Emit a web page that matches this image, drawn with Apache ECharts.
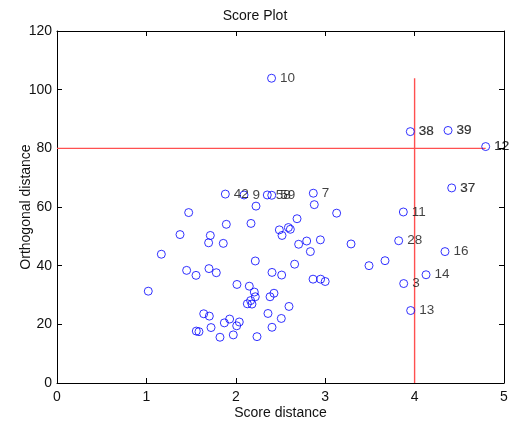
<!DOCTYPE html>
<html>
<head>
<meta charset="utf-8">
<script src="https://cdn.jsdelivr.net/npm/echarts@6/dist/echarts.min.js"></script>
<style>
  html, body { margin: 0; padding: 0; background: #fff; }
  #chart { width: 510px; height: 425px; }
</style>
</head>
<body>
<div id="chart"></div>
<script>
// Samples inside the limits (no label)
const scoreInlier = [
  2.226, 2.878, 1.473, 2.685, 1.894, 2.170, 2.487, 2.588, 2.610, 2.517,
  1.376, 1.715, 1.696, 1.860, 2.703, 2.793, 2.946, 2.834, 1.167, 2.218,
  2.658, 1.450, 1.555, 1.700, 1.782, 2.405, 2.513, 1.021, 2.013, 2.151,
  2.207, 2.218, 2.383, 2.427, 2.166, 2.129, 2.181, 2.595, 1.641, 1.704,
  2.360, 2.509, 1.931, 1.872, 2.039, 2.010, 1.723, 2.405, 1.558, 1.588,
  1.972, 1.823, 2.237, 2.864, 2.949, 3.000, 3.128, 3.289, 3.490, 3.669
];
const orthInlier = [
  60.3, 60.8, 58.1, 56.0, 54.1, 54.4, 52.2, 53.0, 52.4, 50.3,
  50.6, 50.3, 47.8, 47.6, 47.3, 48.4, 48.8, 44.8, 43.9, 41.6,
  40.5, 38.4, 36.7, 39.0, 37.6, 37.7, 36.8, 31.3, 33.6, 33.0,
  31.0, 29.4, 29.4, 30.6, 28.1, 27.0, 26.9, 26.1, 23.6, 22.8,
  23.7, 22.0, 21.8, 20.5, 20.8, 19.5, 18.9, 19.0, 17.7, 17.5,
  16.4, 15.6, 15.8, 35.4, 35.4, 34.6, 57.9, 47.4, 40.0, 41.7
];

// Flagged samples with their sample numbers
const flaggedIds   = ['10', '7', '42', '9', '58', '59', '11', '28', '16', '14', '3', '13'];
const flaggedScore = [2.40, 2.867, 1.883, 2.092, 2.352, 2.402, 3.874, 3.822, 4.340, 4.128, 3.878, 3.956];
const flaggedOrth  = [103.9, 64.7, 64.4, 64.1, 64.1, 64.0, 58.3, 48.5, 44.8, 36.9, 33.9, 24.7];

// Outliers beyond both limits
const outlierIds   = ['38', '39', '12', '37'];
const outlierScore = [3.952, 4.374, 4.795, 4.415];
const outlierOrth  = [85.7, 86.1, 80.6, 66.5];

// Critical limits
const scoreLimit = 4;
const orthLimit = 80;

const xTicks = [0, 1, 2, 3, 4, 5];
const yTicks = [0, 20, 40, 60, 80, 100, 120];

const FONT = 'Liberation Sans, Arial, Helvetica, sans-serif';

const allScore = scoreInlier.concat(flaggedScore, outlierScore);
const allOrth = orthInlier.concat(flaggedOrth, outlierOrth);
const maxScore = Math.max.apply(null, allScore);
const maxOrth = Math.max.apply(null, allOrth);

function zip(xs, ys, names) {
  return xs.map((x, i) => names ? { value: [x, ys[i]], name: names[i] } : [x, ys[i]]);
}

const markerStyle = {
  symbol: 'circle',
  symbolSize: 8,
  itemStyle: { color: 'rgba(0,0,0,0)', borderColor: '#0000ff', borderWidth: 1 }
};

const labelStyle = {
  show: true,
  position: 'right',
  distance: 4,
  formatter: p => p.name,
  color: '#111',
  fontFamily: FONT,
  fontSize: 13.5
};

const chart = echarts.init(document.getElementById('chart'), null, { renderer: 'canvas' });

const axisCommon = {
  axisLine: { show: true, onZero: false, lineStyle: { color: '#000', width: 1 } },
  axisTick: { show: true, inside: true, length: 5, lineStyle: { color: '#000', width: 1 } },
  splitLine: { show: false },
  axisLabel: { color: '#111', fontFamily: FONT, fontSize: 14 }
};

chart.setOption({
  animation: false,
  backgroundColor: '#fff',
  title: {
    text: 'Score Plot',
    left: 'center',
    top: 4,
    textStyle: { fontFamily: FONT, fontSize: 14, fontWeight: 'normal', color: '#111' }
  },
  grid: { left: 57, right: 6, top: 31, bottom: 42, containLabel: false, outerBoundsMode: 'none' },
  xAxis: [
    Object.assign({}, axisCommon, {
      type: 'value', min: xTicks[0], max: xTicks[xTicks.length - 1], interval: 1,
      position: 'bottom',
      name: 'Score distance', nameLocation: 'middle', nameGap: 23, nameMoveOverlap: false,
      nameTextStyle: { fontFamily: FONT, fontSize: 14, color: '#111' },
      axisLabel: Object.assign({}, axisCommon.axisLabel, { margin: 7 })
    }),
    Object.assign({}, axisCommon, {
      type: 'value', min: xTicks[0], max: xTicks[xTicks.length - 1], interval: 1,
      position: 'top', axisLabel: { show: false }
    })
  ],
  yAxis: [
    Object.assign({}, axisCommon, {
      type: 'value', min: yTicks[0], max: yTicks[yTicks.length - 1], interval: 20,
      position: 'left',
      name: 'Orthogonal distance', nameLocation: 'middle', nameGap: 24, nameMoveOverlap: false,
      nameTextStyle: { fontFamily: FONT, fontSize: 14, color: '#111' },
      axisLabel: Object.assign({}, axisCommon.axisLabel, { margin: 5 })
    }),
    Object.assign({}, axisCommon, {
      type: 'value', min: yTicks[0], max: yTicks[yTicks.length - 1], interval: 20,
      position: 'right', axisLabel: { show: false }
    })
  ],
  series: [
    {
      name: 'orthogonal limit',
      type: 'line',
      data: [[0, orthLimit], [maxScore, orthLimit]],
      symbol: 'none',
      lineStyle: { color: '#ff5050', width: 1.4 },
      z: 1
    },
    {
      name: 'score limit',
      type: 'line',
      data: [[scoreLimit, 0], [scoreLimit, maxOrth]],
      symbol: 'none',
      lineStyle: { color: '#ff5050', width: 1.4 },
      z: 1
    },
    Object.assign({ name: 'samples', type: 'scatter', data: zip(scoreInlier, orthInlier), z: 3 }, markerStyle),
    Object.assign({ name: 'flagged', type: 'scatter', data: zip(flaggedScore, flaggedOrth, flaggedIds),
      label: labelStyle, labelLayout: { hideOverlap: false }, z: 3 }, markerStyle),
    Object.assign({ name: 'outliers', type: 'scatter', data: zip(outlierScore, outlierOrth, outlierIds),
      label: Object.assign({}, labelStyle, { color: '#000', textBorderColor: '#000', textBorderWidth: 0.2 }),
      labelLayout: { hideOverlap: false }, z: 3 }, markerStyle)
  ]
});
</script>
</body>
</html>
